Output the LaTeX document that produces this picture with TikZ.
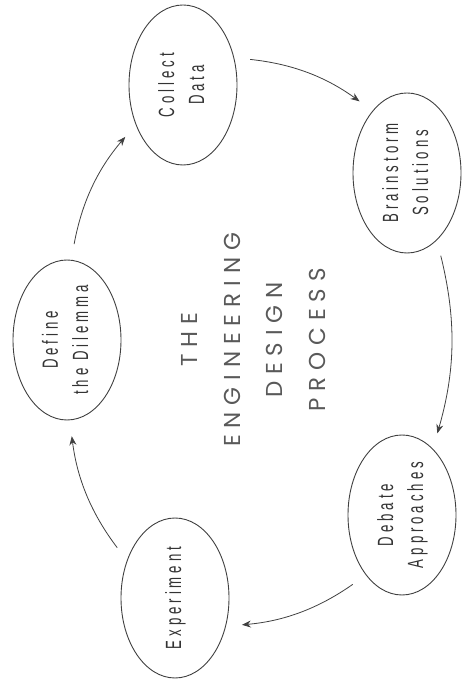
\documentclass[tikz,border=0pt]{standalone}
\usepackage{fontspec}
\usepackage{graphicx}
\usetikzlibrary{shapes.geometric,arrows.meta}

\newfontfamily\stagefont[FakeStretch=0.6,LetterSpace=18]{Liberation Sans}
\newfontfamily\titlefont[LetterSpace=30]{Poppins}
\newcommand{\vlabel}[1]{\rotatebox{90}{\begin{tabular}{@{}c@{}}#1\end{tabular}}}

\tikzset{
  stage/.style={ellipse,draw=black!75,line width=0.9pt,minimum width=108pt,
    minimum height=160pt,inner sep=0pt,text=black!80,
    font=\stagefont\fontsize{22}{30}\selectfont},
  flow/.style={-{Stealth[length=9pt,width=7pt]},line width=0.8pt,draw=black!75,
    shorten <=16pt,shorten >=16pt,bend left=15}
}

\begin{document}
\begin{tikzpicture}[x=1pt,y=1pt]
  \useasboundingbox (0,0) rectangle (461,690);

  % stages of the cycle
  \node[stage] (collect)    at (183,605) {\vlabel{Collect\\Data}};
  \node[stage] (brainstorm) at (407,517) {\vlabel{Brainstorm\\Solutions}};
  \node[stage] (debate)     at (402,175) {\vlabel{Debate\\Approaches}};
  \node[stage] (experiment) at (175,92)  {\vlabel{Experiment}};
  \node[stage] (define)     at (67,350)  {\vlabel{Define\\the Dilemma}};

  \node[rotate=90,align=center,text=black!65,
    font=\titlefont\fontsize{23}{42.5}\selectfont] (title) at (253.5,350)
    {THE\\ENGINEERING\\DESIGN\\PROCESS};

  % arrows
  \draw[flow] (collect.28)     to (brainstorm.119);
  \draw[flow] (brainstorm.-66) to (debate.65);
  \draw[flow] (debate.239)     to (experiment.-29);
  \draw[flow] (experiment.142) to (define.-88);
  \draw[flow] (define.87)      to (collect.220);
\end{tikzpicture}
\end{document}
